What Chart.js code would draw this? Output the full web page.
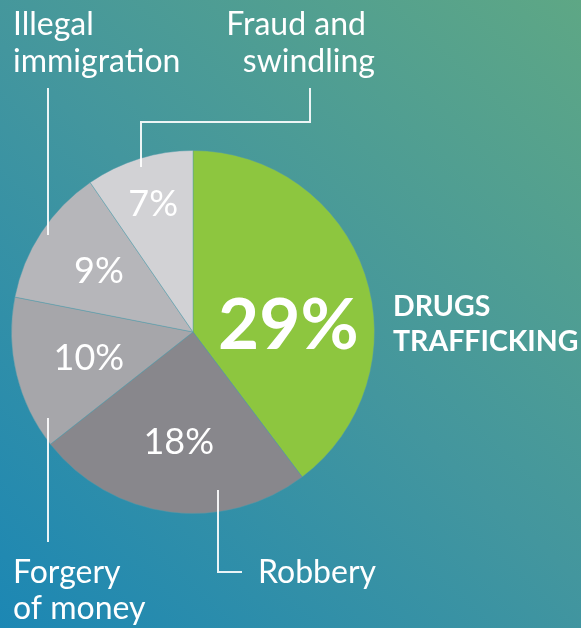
<!DOCTYPE html>
<html>
<head>
<meta charset="utf-8">
<script src="https://cdn.jsdelivr.net/npm/chart.js@4"></script>
<style>
html,body{margin:0;padding:0;background:#3f95a0;}
canvas{display:block;}
</style>
</head>
<body>
<canvas id="c" width="581" height="628"></canvas>
<script>
const categories = ["DRUGS TRAFFICKING", "Robbery", "Forgery of money", "Illegal immigration", "Fraud and swindling"];
const values = [29, 18, 10, 9, 7];
const valueLabels = ["29%", "18%", "10%", "9%", "7%"];
const sliceColors = ["#8dc63f", "#88878c", "#a6a6aa", "#b6b6ba", "#d2d2d5"];

const FONT = "Lato, 'Open Sans', sans-serif";

const bgPlugin = {
  id: 'bg',
  beforeDraw(chart) {
    const ctx = chart.ctx;
    const w = chart.width, h = chart.height;
    const g = ctx.createLinearGradient(0, h, w, 0);
    g.addColorStop(0, '#1c87b4');
    g.addColorStop(0.5, '#43969e');
    g.addColorStop(1, '#5ea785');
    ctx.save();
    ctx.fillStyle = g;
    ctx.fillRect(0, 0, w, h);
    ctx.restore();
  }
};

const labelPlugin = {
  id: 'labels',
  afterDatasetsDraw(chart) {
    const ctx = chart.ctx;
    const arcs = chart.getDatasetMeta(0).data;
    const cx = arcs[0].x, cy = arcs[0].y, r = arcs[0].outerRadius;
    ctx.save();
    // value labels inside slices
    const fracs = [0, 0.61, 0.59, 0.62, 0.74];
    ctx.fillStyle = '#ffffff';
    ctx.textAlign = 'center';
    ctx.textBaseline = 'middle';
    arcs.forEach((a, i) => {
      if (i === 0) {
        ctx.font = "bold 71px " + FONT;
        ctx.textBaseline = 'alphabetic';
        ctx.fillText(valueLabels[0], cx + 0.525 * r, cy + 0.093 * r);
        ctx.textBaseline = 'middle';
        return;
      }
      const mid = (a.startAngle + a.endAngle) / 2;
      ctx.font = "36px " + FONT;
      ctx.fillText(valueLabels[i], cx + Math.cos(mid) * r * fracs[i], cy + Math.sin(mid) * r * fracs[i] + 1);
    });

    // leader lines
    ctx.strokeStyle = 'rgba(255,255,255,0.9)';
    ctx.lineWidth = 2;
    const line = pts => {
      ctx.beginPath();
      ctx.moveTo(pts[0][0], pts[0][1]);
      for (let k = 1; k < pts.length; k++) ctx.lineTo(pts[k][0], pts[k][1]);
      ctx.stroke();
    };
    line([[cx - 145, cy - 244], [cx - 145, cy - 97]]);                 // illegal immigration
    line([[cx + 117, cy - 244], [cx + 117, cy - 210], [cx - 52, cy - 210], [cx - 52, cy - 165]]); // fraud
    line([[cx - 145, cy + 86], [cx - 145, cy + 210]]);                 // forgery
    line([[cx + 25, cy + 158], [cx + 25, cy + 240], [cx + 49, cy + 240]]); // robbery

    // category labels
    ctx.textBaseline = 'alphabetic';
    ctx.textAlign = 'left';
    ctx.font = "32px " + FONT;
    ctx.fillText("Illegal", 13, 35);
    ctx.fillText("immigration", 13, 72);
    ctx.textAlign = 'right';
    ctx.fillText("Fraud and", 366, 35);
    ctx.fillText("swindling", 375, 72);
    ctx.textAlign = 'left';
    ctx.fillText("Forgery", 13, 583);
    ctx.fillText("of money", 13, 619);
    ctx.fillText("Robbery", 258, 583);
    ctx.font = "bold 28.5px " + FONT;
    ctx.fillText("DRUGS", 393, 316);
    ctx.fillText("TRAFFICKING", 393, 351);
    ctx.restore();
  }
};

new Chart(document.getElementById('c'), {
  type: 'pie',
  data: {
    labels: categories,
    datasets: [{
      data: values,
      backgroundColor: sliceColors,
      borderColor: 'rgba(80,155,170,0.45)',
      borderWidth: 1
    }]
  },
  options: {
    responsive: false,
    animation: false,
    layout: { padding: { left: 11, top: 150, right: 206, bottom: 114 } },
    plugins: {
      legend: { display: false },
      tooltip: { enabled: false }
    }
  },
  plugins: [bgPlugin, labelPlugin]
});
</script>
</body>
</html>
